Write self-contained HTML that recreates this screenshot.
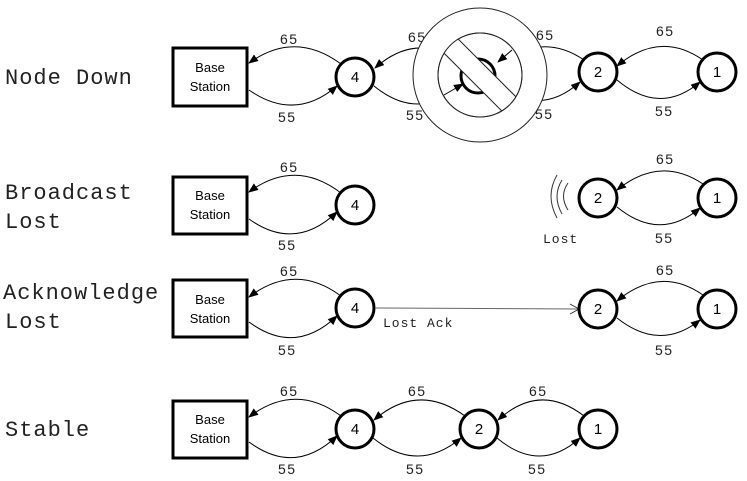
<!DOCTYPE html>
<html><head><style>
html,body{margin:0;padding:0;background:#fff;}
svg{display:block;}
.lbl{font-family:"Liberation Mono",monospace;font-size:22px;letter-spacing:1px;fill:#222;}
.num{font-family:"Liberation Sans",sans-serif;font-size:14px;fill:#222;letter-spacing:1.5px;}
.mono{font-family:"Liberation Mono",monospace;font-size:13px;fill:#222;letter-spacing:1px;}
.nd{font-family:"Liberation Sans",sans-serif;font-size:15px;fill:#000;}
.bs{font-family:"Liberation Sans",sans-serif;font-size:13px;fill:#000;}
.a{fill:none;stroke:#000;stroke-width:1;marker-end:url(#ar);}
.c{fill:#fff;stroke:#000;stroke-width:3;}
.b{fill:#fff;stroke:#000;stroke-width:3;}
</style></head><body>
<svg width="747" height="481" viewBox="0 0 747 481" xmlns="http://www.w3.org/2000/svg">
<defs><marker id="ar" markerWidth="10" markerHeight="10" refX="9" refY="5" orient="auto" markerUnits="userSpaceOnUse"><path d="M0,1 L10,5 L0,9 z" fill="#000"/></marker>
<clipPath id="ic"><circle cx="480" cy="75" r="42"/></clipPath></defs>

<text class="lbl" x="5" y="84">Node Down</text>
<text class="lbl" x="5" y="199">Broadcast</text>
<text class="lbl" x="5" y="228">Lost</text>
<text class="lbl" x="3" y="299">Acknowledge</text>
<text class="lbl" x="5" y="328">Lost</text>
<text class="lbl" x="5" y="436">Stable</text>

<!-- Row1 cy=77 -->
<path class="a" d="M341,64 Q295,30 249,63"/>
<path class="a" d="M249,90 Q295,122 337,86"/>
<text class="num" x="280" y="44">65</text><text class="num" x="278" y="122">55</text>
<path class="a" d="M463,64 Q418,30 375,68"/>
<path class="a" d="M374,86 Q418,122 459,86"/>
<text class="num" x="408" y="42">65</text><text class="num" x="406" y="120">55</text>
<path class="a" d="M584,60 Q540,30 496,68"/>
<path class="a" d="M496,84 Q540,118 580,82"/>
<text class="num" x="536" y="40">65</text><text class="num" x="535" y="119">55</text>
<path class="a" d="M703,60 Q660,30 617,66"/>
<path class="a" d="M617,80 Q660,116 700,82"/>
<text class="num" x="656" y="36">65</text><text class="num" x="655" y="116">55</text>
<rect class="b" x="173" y="48" width="74" height="58"/>
<text class="bs" x="210" y="72" text-anchor="middle">Base</text>
<text class="bs" x="210" y="91" text-anchor="middle">Station</text>
<circle class="c" cx="355" cy="77" r="19"/><text class="nd" x="355" y="82" text-anchor="middle">4</text>
<circle class="c" cx="598" cy="72" r="19"/><text class="nd" x="598" y="77" text-anchor="middle">2</text>
<circle class="c" cx="717" cy="72" r="19"/><text class="nd" x="717" y="77" text-anchor="middle">1</text>
<!-- prohibition -->
<circle cx="480" cy="75" r="67" fill="#fff" stroke="#222" stroke-width="1"/>
<circle cx="480" cy="75" r="42" fill="#fff" stroke="#222" stroke-width="1"/>
<circle cx="478" cy="76" r="17" fill="none" stroke="#000" stroke-width="3"/>
<path class="a" d="M512,50 L498,62"/>
<path class="a" d="M444,95 L463,84"/>
<g clip-path="url(#ic)"><g transform="rotate(45 480 75)"><rect x="420" y="65" width="120" height="20" fill="#fff" stroke="#222" stroke-width="1"/></g></g>
<circle cx="480" cy="75" r="42" fill="none" stroke="#222" stroke-width="1"/>

<!-- Row2 -->
<path class="a" d="M341,193 Q295,158 249,192"/>
<path class="a" d="M249,219 Q295,252 337,212"/>
<text class="num" x="280" y="172">65</text><text class="num" x="278" y="250">55</text>
<rect class="b" x="173" y="177" width="74" height="57"/>
<text class="bs" x="210" y="200" text-anchor="middle">Base</text>
<text class="bs" x="210" y="219" text-anchor="middle">Station</text>
<circle class="c" cx="355" cy="205" r="19"/><text class="nd" x="355" y="210" text-anchor="middle">4</text>
<path class="a" d="M703,184 Q660,155 617,190"/>
<path class="a" d="M617,207 Q660,242 700,208"/>
<text class="num" x="656" y="164">65</text><text class="num" x="655" y="243">55</text>
<circle class="c" cx="598" cy="198" r="19"/><text class="nd" x="598" y="203" text-anchor="middle">2</text>
<circle class="c" cx="717" cy="198" r="19"/><text class="nd" x="717" y="203" text-anchor="middle">1</text>
<path d="M557,175 Q545,196 557,218" fill="none" stroke="#333"/>
<path d="M562,180 Q552,196 562,214" fill="none" stroke="#333"/>
<path d="M568,183 Q559,196 568,210" fill="none" stroke="#333"/>
<text class="mono" x="543" y="243">Lost</text>

<!-- Row3 -->
<path class="a" d="M341,296 Q295,262 249,297"/>
<path class="a" d="M249,322 Q295,356 337,316"/>
<text class="num" x="280" y="276">65</text><text class="num" x="278" y="355">55</text>
<rect class="b" x="173" y="280" width="74" height="57"/>
<text class="bs" x="210" y="304" text-anchor="middle">Base</text>
<text class="bs" x="210" y="323" text-anchor="middle">Station</text>
<circle class="c" cx="355" cy="308" r="19"/><text class="nd" x="355" y="313" text-anchor="middle">4</text>
<path d="M375,308 L578,309" fill="none" stroke="#666" stroke-width="1"/>
<path d="M570,304 L579,309 L570,314" fill="none" stroke="#333"/>
<text class="mono" x="383" y="327">Lost Ack</text>
<path class="a" d="M703,295 Q660,265 617,301"/>
<path class="a" d="M617,318 Q660,352 700,320"/>
<text class="num" x="656" y="275">65</text><text class="num" x="655" y="355">55</text>
<circle class="c" cx="598" cy="309" r="19"/><text class="nd" x="598" y="314" text-anchor="middle">2</text>
<circle class="c" cx="717" cy="309" r="19"/><text class="nd" x="717" y="314" text-anchor="middle">1</text>

<!-- Row4 -->
<path class="a" d="M341,416 Q295,382 249,417"/>
<path class="a" d="M249,442 Q295,476 337,436"/>
<text class="num" x="280" y="396">65</text><text class="num" x="278" y="474">55</text>
<path class="a" d="M465,416 Q418,382 374,420"/>
<path class="a" d="M373,438 Q418,474 461,438"/>
<text class="num" x="408" y="396">65</text><text class="num" x="406" y="474">55</text>
<path class="a" d="M584,416 Q540,382 498,420"/>
<path class="a" d="M497,438 Q540,474 580,438"/>
<text class="num" x="529" y="396">65</text><text class="num" x="528" y="474">55</text>
<rect class="b" x="173" y="401" width="74" height="57"/>
<text class="bs" x="210" y="424" text-anchor="middle">Base</text>
<text class="bs" x="210" y="443" text-anchor="middle">Station</text>
<circle class="c" cx="355" cy="429" r="19"/><text class="nd" x="355" y="434" text-anchor="middle">4</text>
<circle class="c" cx="479" cy="429" r="19"/><text class="nd" x="479" y="434" text-anchor="middle">2</text>
<circle class="c" cx="598" cy="429" r="19"/><text class="nd" x="598" y="434" text-anchor="middle">1</text>
</svg>
</body></html>
